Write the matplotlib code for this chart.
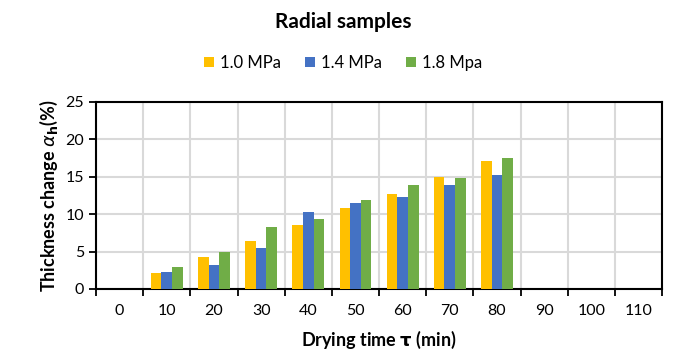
import numpy as np
import matplotlib.pyplot as plt

times = ['0', '10', '20', '30', '40', '50', '60', '70', '80', '90', '100', '110']
p10 = [0, 2.1, 4.3, 6.45, 8.6, 10.8, 12.75, 14.95, 17.1, 0, 0, 0]
p14 = [0, 2.25, 3.15, 5.5, 10.3, 11.5, 12.35, 13.85, 15.2, 0, 0, 0]
p18 = [0, 2.9, 4.95, 8.3, 9.3, 11.95, 13.85, 14.8, 17.5, 0, 0, 0]
series = [('1.0 MPa', p10, '#FFC000'), ('1.4 MPa', p14, '#4472C4'), ('1.8 Mpa', p18, '#70AD47')]

plt.rcParams['font.family'] = ['Lato', 'DejaVu Sans']

fig = plt.figure(figsize=(6.86, 3.59), dpi=100)
ax = fig.add_axes([0.14, 0.195, 0.825, 0.521])

x = np.arange(len(times))
w = 0.225
for i, (name, vals, col) in enumerate(series):
    ax.bar(x + (i - 1) * w, vals, width=w, color=col, label=name, zorder=3)

ax.set_xlim(-0.5, len(times) - 0.5)
ax.set_ylim(0, 25)
ax.set_yticks(range(0, 26, 5))
ax.set_xticks(x)
ax.set_xticklabels(times)
ax.set_xticks(np.arange(-0.5, len(times), 1), minor=True)
ax.tick_params(axis='x', which='major', length=0, pad=11, labelsize=11.5)
ax.tick_params(axis='x', which='minor', length=5, width=1.3, direction='out')
ax.tick_params(axis='y', length=5, width=1.3, labelsize=11.5)
ax.grid(True, axis='y', color='#d9d9d9', linewidth=1.5, zorder=0)
ax.grid(True, axis='x', which='minor', color='#d9d9d9', linewidth=1.5, zorder=0)
for s in ax.spines.values():
    s.set_linewidth(1.5)
    s.set_color('black')

ax.set_xlabel(r'Drying time $\mathbf{\tau}$ (min)', fontsize=13, fontweight='bold', labelpad=8)
ax.set_ylabel(r'Thickness change $\alpha_\mathbf{h}$(%)', fontsize=13, fontweight='bold')

fig.text(0.5, 0.94, 'Radial samples', ha='center', va='center', fontsize=15, fontweight='bold')
fig.legend(loc='center', bbox_to_anchor=(0.5, 0.825), ncol=3, frameon=False, fontsize=12,
           handlelength=0.6, handleheight=0.6, handletextpad=0.4, columnspacing=1.4)

fig.savefig('out.png', dpi=100)
